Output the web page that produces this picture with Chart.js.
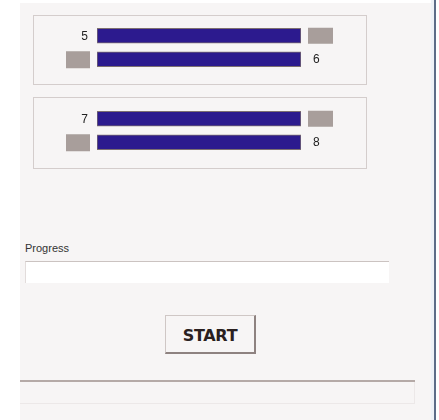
<!DOCTYPE html>
<html>
<head>
<meta charset="utf-8">
<script src="https://cdn.jsdelivr.net/npm/chart.js@4"></script>
<style>
  html,body{margin:0;padding:0;background:#ffffff;width:439px;height:420px;overflow:hidden;}
  #panel{position:absolute;left:20px;top:3px;width:412px;height:417px;background:#f7f5f5;}
  .box{position:absolute;left:33px;width:332px;border:1px solid #d4cdcc;box-sizing:content-box;}
  .cw{position:absolute;left:33px;width:334px;}
  #lbl{position:absolute;left:25px;top:242px;font:11px "Liberation Sans",Arial,sans-serif;color:#333;}
  #prog{position:absolute;left:25px;top:261px;width:363px;height:21px;background:#fff;border-top:1px solid #cbc3c1;border-left:1px solid #e2dcdb;}
  #btn{position:absolute;left:165px;top:315px;width:88px;height:36px;background:#f7f5f5;border-top:1px solid #cfc7c5;border-left:1px solid #cfc7c5;border-right:2px solid #8e8280;border-bottom:2px solid #8e8280;
       font:bold 16px "DejaVu Sans",sans-serif;color:#2a2020;text-align:center;line-height:40px;letter-spacing:-0.3px;}
  #hline{position:absolute;left:20px;top:380px;width:395px;height:2px;background:#b5aaa7;}
  #lowbox{position:absolute;left:20px;top:382px;width:394px;height:21px;border-right:1px solid #ece8e8;border-bottom:1px solid #ece8e8;}
  #strip{position:absolute;left:431px;top:0;width:3px;height:420px;background:#eef2f7;}
  #vline{position:absolute;left:434px;top:0;width:2px;height:420px;background:#5d6d88;}
</style>
</head>
<body>
<div id="panel"></div>
<div class="box" style="top:15px;height:68px;"></div>
<div class="box" style="top:97px;height:70px;"></div>
<div class="cw" style="top:15px;height:70px;"><canvas id="c1"></canvas></div>
<div class="cw" style="top:98px;height:70px;"><canvas id="c2"></canvas></div>
<div id="lbl">Progress</div>
<div id="prog"></div>
<div id="btn">START</div>
<div id="hline"></div>
<div id="lowbox"></div>
<div id="strip"></div>
<div id="vline"></div>
<script>
const groupA = ['5', '6'];
const groupB = ['7', '8'];
const valuesA = [100, 100];
const valuesB = [100, 100];
const maxValue = 100;

const sidePlugin = {
  id: 'side',
  afterDatasetsDraw(chart) {
    const ctx = chart.ctx;
    const meta = chart.getDatasetMeta(0);
    const labels = chart.data.labels;
    ctx.save();
    ctx.font = '12px "Liberation Sans", Arial, sans-serif';
    ctx.fillStyle = '#222';
    ctx.textBaseline = 'middle';
    meta.data.forEach((bar, i) => {
      const left = bar.base, right = bar.x, y = bar.y;
      if (i % 2 === 0) {
        ctx.textAlign = 'right';
        ctx.fillText(labels[i], left - 9, y + 1);
        ctx.fillStyle = '#a89e9b';
        ctx.fillRect(right + 7, y - 8, 25, 16);
      } else {
        ctx.fillStyle = '#a89e9b';
        ctx.fillRect(left - 31, y - 8, 24, 17);
        ctx.fillStyle = '#222';
        ctx.textAlign = 'left';
        ctx.fillText(labels[i], right + 12, y);
      }
      ctx.fillStyle = '#222';
    });
    ctx.restore();
  }
};

function make(id, labels, values) {
  return new Chart(document.getElementById(id), {
    type: 'bar',
    data: {
      labels: labels,
      datasets: [{
        data: values,
        backgroundColor: '#2c1a8e',
        borderColor: '#7d6f70',
        borderWidth: 1,
        borderSkipped: false,
        barThickness: 15
      }]
    },
    options: {
      indexAxis: 'y',
      responsive: true,
      maintainAspectRatio: false,
      animation: false,
      layout: { padding: { left: 64, right: 66, top: 9, bottom: 14 } },
      plugins: { legend: { display: false }, tooltip: { enabled: false } },
      scales: {
        x: { display: false, min: 0, max: maxValue },
        y: { display: false }
      }
    },
    plugins: [sidePlugin]
  });
}
make('c1', groupA, valuesA);
make('c2', groupB, valuesB);
</script>
</body>
</html>
